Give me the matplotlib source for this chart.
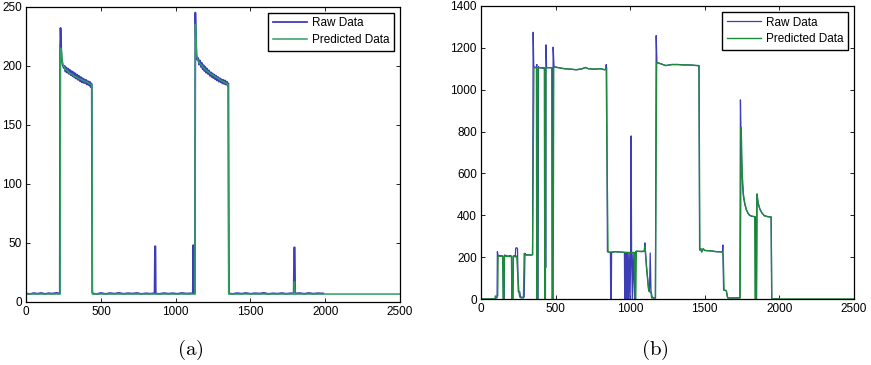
import matplotlib
matplotlib.use("Agg")
import matplotlib.pyplot as plt

plt.rcParams['font.family'] = ['Liberation Sans', 'DejaVu Sans']
plt.rcParams['mathtext.fontset'] = 'cm'

# ---------------- (a) data ----------------
raw_a_x = [0, 25, 50, 75, 100, 125, 150, 175, 200, 224,
           226, 229, 232, 236, 242, 248,
           250, 256, 262, 268, 274, 280, 286, 292, 298, 304, 310, 316, 322, 328, 334, 340,
           346, 352, 358, 364, 370, 376, 382, 388, 394, 400, 406, 412, 418, 424, 430, 435,
           438, 441, 446,
           470, 500, 530, 560, 590, 620, 650, 680, 710, 740, 770, 800, 830, 858,
           861, 864, 866,
           890, 920, 950, 980, 1010, 1040, 1070, 1100, 1114,
           1117, 1120, 1128,
           1131, 1134, 1138, 1144,
           1150, 1156, 1162, 1168, 1174, 1180, 1186, 1192, 1198, 1204, 1210, 1216, 1222, 1228,
           1234, 1240, 1246, 1252, 1258, 1264, 1270, 1276, 1282, 1288, 1294, 1300, 1306, 1312,
           1318, 1324, 1330, 1336, 1342, 1348,
           1352, 1356,
           1380, 1410, 1440, 1470, 1500, 1530, 1560, 1590, 1620, 1650, 1680, 1710, 1740, 1770, 1789,
           1792, 1796, 1799,
           1830, 1860, 1890, 1920, 1950, 1987]
raw_a_y = [7, 6.5, 7.3, 6.8, 7.4, 6.6, 7.2, 6.9, 7.5, 7,
           215, 232, 222, 205, 201, 199,
           198, 200, 195, 198.5, 194, 197.5, 193, 196.5, 192, 195.5, 191, 194.5, 190, 193.5, 189, 192.5,
           188, 191.5, 187, 190.5, 186, 189.5, 185.5, 188.5, 185, 188, 184, 187, 183.5, 186.5, 182, 185,
           184, 8, 7,
           6.5, 7.4, 6.6, 7.3, 6.8, 7.5, 6.7, 7.2, 6.9, 7.4, 6.6, 7.1, 6.8, 7.2,
           47, 47, 7,
           6.6, 7.3, 6.8, 7.2, 6.7, 7.4, 6.9, 7.1, 7,
           48, 7, 7,
           245, 225, 208, 205,
           206.5, 201, 204.5, 199, 202.5, 197, 200.5, 195.5, 199, 194, 197.5, 193, 196, 191.5,
           194.5, 190.5, 193.5, 189.5, 192.5, 188.5, 191.5, 187.5, 190.5, 186.5, 189.5, 186, 188.5, 185,
           188, 184.5, 187.5, 184, 186.5, 183,
           185, 7,
           6.6, 7.3, 6.8, 7.4, 6.7, 7.2, 6.9, 7.5, 6.6, 7.1, 6.8, 7.3, 6.7, 7.2, 7,
           46, 46, 7,
           7.3, 6.7, 7.4, 6.8, 7.2, 7]

pred_a_x = [0, 226, 229, 233, 237, 242, 248, 260, 275, 290, 305, 320, 335, 350, 365, 380,
            395, 410, 425, 436, 439, 442,
            1128, 1131, 1135, 1140, 1146, 1160, 1175, 1190, 1205, 1220, 1235, 1250, 1265,
            1280, 1295, 1310, 1325, 1340, 1350, 1354,
            1790, 1794, 1798, 2500]
pred_a_y = [6.5, 6.5, 215, 214, 210, 203, 200, 197, 196, 193.5, 193, 191, 190.5, 189, 188.5, 187.5,
            186.5, 186, 184.5, 184, 183, 6.5,
            6.5, 235, 225, 210, 205, 202, 200, 197.5, 196, 194.5, 193, 192, 190.5,
            189.5, 188, 187, 186, 185, 184, 6.5,
            6.5, 17, 6.5, 6.5]

# ---------------- (b) data ----------------
raw_b_x = [0, 94, 100, 108, 110, 114, 120, 140, 148, 150, 156, 158, 180, 200, 205, 207, 215, 217,
           225, 230, 233, 240, 245, 248, 250, 260, 265, 280, 290, 295, 300, 330, 346,
           350, 354, 370, 375, 378, 383, 386, 390, 430, 432, 434, 436, 440, 445, 476, 478, 481,
           484, 490, 520, 560, 600, 640, 680, 700, 720, 760, 800, 830, 836, 840, 843, 848,
           860, 868, 870, 874, 876, 900, 940, 962, 964, 968, 972, 976, 980, 984, 990, 994,
           1000, 1004, 1007, 1010, 1015, 1020, 1030, 1035, 1040, 1080, 1095, 1099, 1103,
           1110, 1125, 1130, 1135, 1140, 1148, 1160, 1170, 1175, 1180, 1200, 1240, 1280,
           1320, 1360, 1400, 1450, 1462, 1466, 1475, 1480, 1490, 1500, 1540, 1580, 1620,
           1622, 1627, 1645, 1654, 1736, 1740, 1746, 1752, 1760, 1770, 1780, 1790, 1800,
           1815, 1836, 1840, 1843, 1848, 1852, 1858, 1870, 1885, 1900, 1925, 1946, 1950, 2000]
raw_b_y = [0, 0, 5, 5, 226, 210, 208, 207, 205, 0, 0, 210, 205, 208, 203, 0, 0, 205,
           207, 200, 243, 245, 240, 100, 35, 35, 10, 8, 10, 218, 212, 210, 212,
           1274, 1110, 1105, 1120, 0, 0, 1110, 1105, 1100, 1100, 150, 1214, 1105, 1105, 1105, 0, 0,
           1203, 1110, 1105, 1100, 1098, 1095, 1100, 1106, 1100, 1098, 1100, 1095, 1098, 1120, 1100, 226,
           224, 222, 0, 0, 222, 226, 224, 222, 0, 222, 0, 222, 0, 222, 0, 222,
           0, 222, 779, 222, 0, 222, 0, 222, 228, 226, 228, 268, 226,
           160, 40, 35, 220, 40, 10, 5, 5, 1258, 1130, 1125, 1115, 1120,
           1120, 1118, 1118, 1115, 1115, 234, 240, 225, 240, 232, 230, 226, 225,
           258, 43, 40, 5, 5, 951, 700, 560, 490, 450, 425, 410, 400,
           395, 393, 393, 0, 0, 502, 460, 430, 410, 398, 393, 392, 0, 0]

pred_b_x = [0, 94, 96, 112, 115, 120, 145, 149, 154, 157, 180, 205, 207, 213, 217, 240, 248,
            255, 260, 270, 285, 290, 300, 340, 346, 355, 372, 374, 380, 383, 425, 428, 432,
            435, 475, 478, 484, 488, 520, 560, 600, 640, 680, 700, 720, 760, 800, 830, 840,
            845, 852, 860, 900, 940, 1000, 1030, 1034, 1038, 1042, 1095, 1100, 1110, 1125,
            1132, 1140, 1145, 1170, 1178, 1200, 1240, 1280, 1320, 1360, 1400, 1450, 1462,
            1468, 1475, 1480, 1490, 1500, 1540, 1580, 1620, 1625, 1630, 1645, 1655, 1738,
            1745, 1752, 1760, 1770, 1780, 1790, 1800, 1815, 1836, 1838, 1847, 1850, 1858,
            1870, 1885, 1900, 1925, 1946, 1950, 2500]
pred_b_y = [0, 0, 14, 14, 205, 205, 203, 0, 0, 205, 203, 203, 0, 0, 205, 205, 100,
            30, 10, 5, 5, 218, 210, 210, 212, 1105, 1105, 0, 0, 1105, 1105, 0, 0,
            1105, 1105, 0, 0, 1108, 1105, 1100, 1098, 1095, 1100, 1106, 1100, 1098, 1100, 1095, 1100,
            700, 226, 224, 226, 224, 222, 222, 0, 0, 228, 228, 250, 150, 40,
            35, 30, 5, 5, 1129, 1125, 1115, 1120, 1120, 1118, 1118, 1115, 1115,
            234, 240, 225, 240, 232, 230, 226, 225, 200, 43, 40, 5, 5,
            820, 600, 500, 455, 428, 412, 402, 396, 393, 0, 0, 500, 460,
            430, 410, 398, 393, 392, 0, 0]

a_xticks = [0, 500, 1000, 1500, 2000, 2500]
a_yticks = [0, 50, 100, 150, 200, 250]
b_xticks = [0, 500, 1000, 1500, 2000, 2500]
b_yticks = [0, 200, 400, 600, 800, 1000, 1200, 1400]

blue = '#3d3db8'
green_a = '#2f9e5f'
green_b = '#1c8a3a'

fig = plt.figure(figsize=(8.71, 3.65), dpi=100)
ax1 = fig.add_axes([0.0302, 0.1734, 0.4290, 0.8082])
ax2 = fig.add_axes([0.5522, 0.1808, 0.4280, 0.8030])

ax1.plot(raw_a_x, raw_a_y, color=blue, lw=1.3, label='Raw Data')
ax1.plot(pred_a_x, pred_a_y, color=green_a, lw=1.1, label='Predicted Data')
ax2.plot(raw_b_x, raw_b_y, color=blue, lw=0.9, label='Raw Data')
ax2.plot(pred_b_x, pred_b_y, color=green_b, lw=1.0, label='Predicted Data')

for ax, xt, yt, ylim in [(ax1, a_xticks, a_yticks, (0, 250)), (ax2, b_xticks, b_yticks, (0, 1400))]:
    ax.set_xlim(0, 2500)
    ax.set_ylim(*ylim)
    ax.set_xticks(xt)
    ax.set_yticks(yt)
    ax.tick_params(direction='in', top=True, right=True, length=3, width=0.6,
                   labelsize=8.5, pad=3, colors='black')
    for s in ax.spines.values():
        s.set_linewidth(0.9)
        s.set_color('black')
    leg = ax.legend(loc='upper right', fontsize=8.5, fancybox=False, edgecolor='black',
                    framealpha=1, handlelength=2.9, borderaxespad=0.5,
                    borderpad=0.4, labelspacing=0.4, handletextpad=0.4)
    leg.get_frame().set_linewidth(1.0)

fig.text(0.218, 0.04, r'$\mathrm{(a)}$', ha='center', va='center', fontsize=15)
fig.text(0.752, 0.04, r'$\mathrm{(b)}$', ha='center', va='center', fontsize=15)

fig.savefig('out.png', dpi=100)
